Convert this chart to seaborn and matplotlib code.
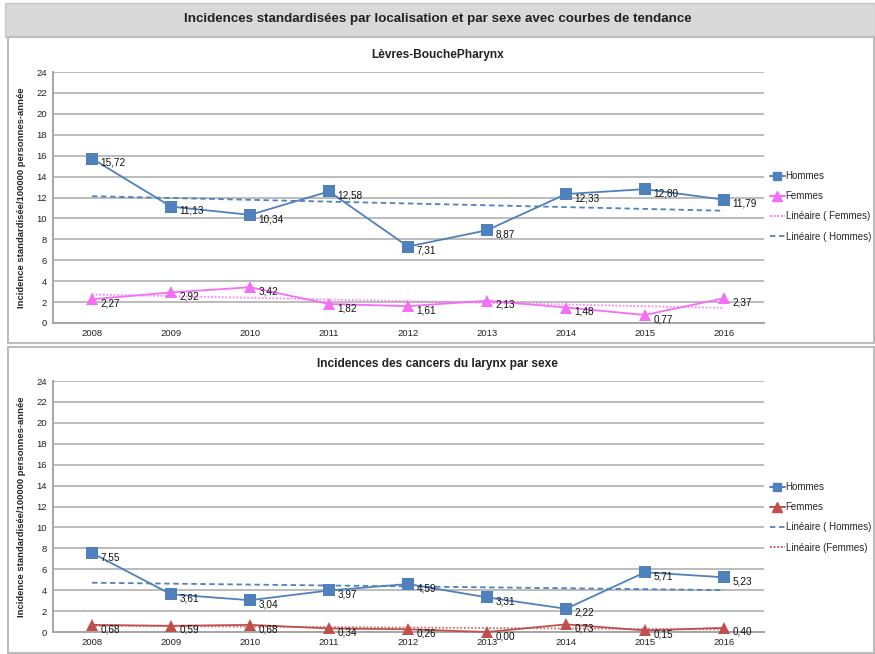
import numpy as np
import pandas as pd
import matplotlib.pyplot as plt
import seaborn as sns
from matplotlib.lines import Line2D
from matplotlib.patches import Rectangle

# data
years = [2008, 2009, 2010, 2011, 2012, 2013, 2014, 2015, 2016]
levres_hommes = [15.72, 11.13, 10.34, 12.58, 7.31, 8.87, 12.33, 12.80, 11.79]
levres_femmes = [2.27, 2.92, 3.42, 1.82, 1.61, 2.13, 1.48, 0.77, 2.37]
larynx_hommes = [7.55, 3.61, 3.04, 3.97, 4.59, 3.31, 2.22, 5.71, 5.23]
larynx_femmes = [0.68, 0.59, 0.68, 0.34, 0.26, 0.00, 0.73, 0.15, 0.40]

title = "Incidences standardisées par localisation et par sexe avec courbes de tendance"
subtitles = ["Lèvres-BouchePharynx", "Incidences des cancers du larynx par sexe"]
ylabel = "Incidence standardisée/100000 personnes-année"

sns.set_style("white")
plt.rcParams['font.family'] = ['Liberation Sans', 'DejaVu Sans']

BLUE = '#4f81bd'
PINK = '#f56ef5'
RED = '#c0504d'
GRID = '#bcbcbc'

W, H = 875, 654
fig = plt.figure(figsize=(W / 100, H / 100), dpi=100)


def fx(px):
    return px / W


def fy(py):
    return 1 - py / H


# grey title banner and the two chart frames (behind the axes)
fig.patches.append(Rectangle((fx(5), fy(37)), fx(870), 34 / H, transform=fig.transFigure,
                             facecolor='#d9d9d9', edgecolor='#c8c8c8', lw=1, zorder=-2))
fig.patches.append(Rectangle((fx(8), fy(343)), fx(866), 306 / H, transform=fig.transFigure,
                             facecolor='white', edgecolor='#bdbdbd', lw=1.5, zorder=-2))
fig.patches.append(Rectangle((fx(8), fy(653)), fx(866), 306 / H, transform=fig.transFigure,
                             facecolor='white', edgecolor='#bdbdbd', lw=1.5, zorder=-2))
fig.text(0.5, fy(19), title, ha='center', va='center', fontsize=9.6, fontweight='bold', color='#222222')

panels = [
    dict(top=72, hommes=levres_hommes, femmes=levres_femmes, fcol=PINK,
         legend_order=['H', 'F', 'LF', 'LH'], leg_top=171,
         lin_labels={'LF': 'Linéaire ( Femmes)', 'LH': 'Linéaire ( Hommes)'}),
    dict(top=381, hommes=larynx_hommes, femmes=larynx_femmes, fcol=RED,
         legend_order=['H', 'F', 'LH', 'LF'], leg_top=482,
         lin_labels={'LH': 'Linéaire ( Hommes)', 'LF': 'Linéaire (Femmes)'}),
]

for i, p in enumerate(panels):
    ax = fig.add_axes([fx(52.5), fy(p['top'] + 251), fx(711), 251 / H])
    ax.set_zorder(1)
    df = pd.DataFrame({'annee': years, 'Hommes': p['hommes'], 'Femmes': p['femmes']})

    # linear trend lines
    sns.regplot(data=df, x='annee', y='Hommes', ax=ax, scatter=False, ci=None,
                line_kws=dict(color=BLUE, lw=1.3, ls=(0, (3, 2)), zorder=2))
    sns.regplot(data=df, x='annee', y='Femmes', ax=ax, scatter=False, ci=None,
                line_kws=dict(color=p['fcol'], lw=1.3, ls=(0, (1, 1)), alpha=0.8, zorder=2))

    sns.lineplot(data=df, x='annee', y='Hommes', ax=ax, color=BLUE, marker='s', markersize=8,
                 markeredgewidth=0, lw=1.3, zorder=3, clip_on=False)
    sns.lineplot(data=df, x='annee', y='Femmes', ax=ax, color=p['fcol'], marker='^',
                 markersize=9, markeredgewidth=0, lw=1.3, zorder=3, clip_on=False)

    for col in ['Hommes', 'Femmes']:
        for x, v in zip(df['annee'], df[col]):
            ax.annotate(f"{v:.2f}".replace('.', ','), (x, v), xytext=(6, -3),
                        textcoords='offset points', ha='left', va='center', fontsize=7.2,
                        color='#111111', zorder=4)

    ax.set_xlim(2007.5, 2016.5)
    ax.set_ylim(0, 24)
    ax.set_yticks(range(0, 25, 2))
    ax.set_xticks(years)
    ax.tick_params(axis='both', labelsize=6.8, length=0, pad=4, colors='#222222')
    ax.grid(axis='y', color=GRID, lw=1.4)
    for s in ['top', 'right']:
        ax.spines[s].set_visible(False)
    for s in ['left', 'bottom']:
        ax.spines[s].set_color('#a6a6a6')
        ax.spines[s].set_linewidth(1.4)
    ax.set_xlabel('')
    ax.set_ylabel(ylabel, fontsize=6.8, fontweight='bold', labelpad=7)
    ax.set_facecolor('none')

    fig.text(0.5, fy(p['top'] - 17), subtitles[i], ha='center', va='center',
             fontsize=8.6, fontweight='bold', color='#222222')

    handles = {
        'H': Line2D([], [], color=BLUE, marker='s', markersize=6, lw=1.4, label='Hommes'),
        'F': Line2D([], [], color=p['fcol'], marker='^', markersize=7, lw=1.4, label='Femmes'),
        'LF': Line2D([], [], color=p['fcol'], ls=(0, (1, 1)), lw=1.3, label=p['lin_labels']['LF']),
        'LH': Line2D([], [], color=BLUE, ls=(0, (3, 2)), lw=1.3, label=p['lin_labels']['LH']),
    }
    fig.legend(handles=[handles[k] for k in p['legend_order']], loc='upper left',
               bbox_to_anchor=(fx(770), fy(p['leg_top'])), frameon=False, fontsize=7,
               handlelength=1.5, handletextpad=0.1, labelspacing=1.05, borderaxespad=0,
               borderpad=0)

fig.savefig('out.png', dpi=100)
